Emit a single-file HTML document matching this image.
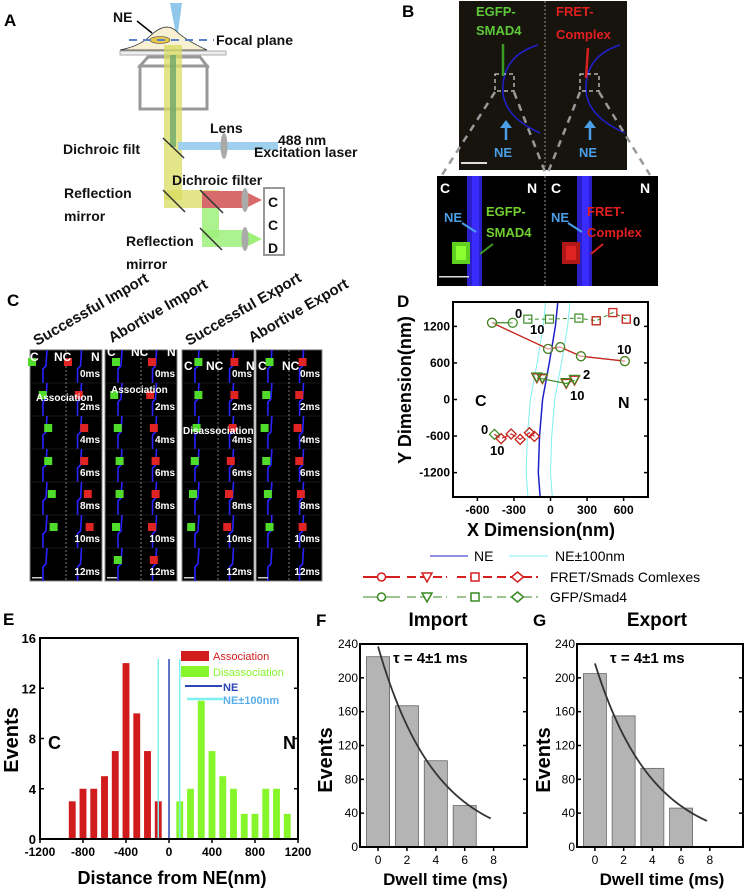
<!DOCTYPE html>
<html><head><meta charset="utf-8"><style>
html,body{margin:0;padding:0;background:#fff;}
svg{display:block;font-family:"Liberation Sans",Arial,sans-serif;}
.b{font-weight:bold;}
</style></head><body>
<svg id="fig" width="747" height="893" viewBox="0 0 747 893" xmlns="http://www.w3.org/2000/svg">
<!-- Panel A -->
<g>
<text x="4" y="26" class="b" font-size="17">A</text>
<polygon points="170,3 182,3 177,40" fill="#8fc8ea"/>
<path d="M120,50 Q140,46 150,36 Q165,22 175,30 Q185,40 207,50 Z" fill="#f7f0d2" stroke="#333" stroke-width="0.8"/>
<ellipse cx="160" cy="40" rx="10" ry="3.5" fill="#e8c84a" stroke="#333" stroke-width="0.6"/>
<line x1="129" y1="40" x2="214" y2="40" stroke="#5b82c8" stroke-width="2" stroke-dasharray="8,6"/>
<line x1="137" y1="21" x2="152" y2="33" stroke="#000" stroke-width="1.5"/>
<rect x="120" y="51" width="106" height="4" fill="#eee" stroke="#999" stroke-width="0.8"/>
<polygon points="148,57 200,57 207,66 140,66" fill="none" stroke="#999" stroke-width="3"/>
<rect x="140" y="66" width="67" height="43" fill="none" stroke="#999" stroke-width="3"/>
<rect x="164" y="45" width="18" height="155" fill="#d8dc60" opacity="0.75"/>
<rect x="164" y="190" width="55" height="18" fill="#d8dc60" opacity="0.75"/>
<rect x="170" y="55" width="6" height="92" fill="#6ea86a" opacity="0.8"/>
<rect x="178" y="142" width="100" height="8" fill="#9fd0ee"/>
<ellipse cx="224" cy="146" rx="3.5" ry="13" fill="#aaa"/>
<line x1="163" y1="138" x2="184" y2="158" stroke="#333" stroke-width="1.5"/>
<line x1="163" y1="190" x2="185" y2="212" stroke="#333" stroke-width="1.5"/>
<rect x="202" y="191" width="42" height="17" fill="#d76a6a"/>
<polygon points="244,191 262,200 244,209" fill="#d76a6a"/>
<ellipse cx="245" cy="200" rx="3.5" ry="12" fill="#aaa"/>
<rect x="202" y="208" width="17" height="30" fill="#9ef07a" opacity="0.85"/>
<rect x="202" y="230" width="42" height="17" fill="#9ef07a" opacity="0.85"/>
<polygon points="244,230 262,239 244,248" fill="#9ef07a"/>
<ellipse cx="245" cy="239" rx="3.5" ry="12" fill="#aaa"/>
<line x1="200" y1="190" x2="223" y2="213" stroke="#333" stroke-width="1.5"/>
<line x1="200" y1="228" x2="222" y2="250" stroke="#333" stroke-width="1.5"/>
<rect x="264" y="188" width="20" height="67" fill="#fff" stroke="#999" stroke-width="2"/>
<g class="b" font-size="14" fill="#111">
<text x="113" y="22">NE</text>
<text x="216" y="45">Focal plane</text>
<text x="210" y="133">Lens</text>
<text x="278" y="145">488 nm</text>
<text x="254" y="157">Excitation laser</text>
<text x="63" y="154">Dichroic filt</text>
<text x="172" y="185">Dichroic filter</text>
<text x="64" y="198">Reflection</text>
<text x="64" y="221">mirror</text>
<text x="126" y="246">Reflection</text>
<text x="126" y="269">mirror</text>
<text x="268" y="207">C</text>
<text x="268" y="230">C</text>
<text x="268" y="253">D</text>
</g>
</g>
<!-- Panel B -->
<g>
<text x="402" y="17" class="b" font-size="17">B</text>
<rect x="459" y="1" width="168" height="169" fill="#17140d"/>
<line x1="545" y1="1" x2="545" y2="286" stroke="#ccc" stroke-width="0.7" stroke-dasharray="2,2"/>
<path d="M538,45 Q505,55 503,85 Q500,115 540,133" fill="none" stroke="#2020d0" stroke-width="1.5"/>
<path d="M620,45 Q588,55 586,85 Q584,115 625,133" fill="none" stroke="#2020d0" stroke-width="1.5"/>
<rect x="495" y="74" width="19" height="17" fill="none" stroke="#fff" stroke-dasharray="4,3"/>
<rect x="580" y="74" width="19" height="17" fill="none" stroke="#fff" stroke-dasharray="4,3"/>
<line x1="503" y1="44" x2="503" y2="76" stroke="#3a9a22" stroke-width="2.5"/>
<line x1="588" y1="48" x2="586" y2="78" stroke="#d42020" stroke-width="2.5"/>
<line x1="506" y1="140" x2="506" y2="124" stroke="#4a9fe8" stroke-width="2.5"/>
<polygon points="500,128 506,120 512,128" fill="#4a9fe8"/>
<line x1="590" y1="140" x2="590" y2="124" stroke="#4a9fe8" stroke-width="2.5"/>
<polygon points="584,128 590,120 596,128" fill="#4a9fe8"/>
<text x="476" y="16" class="b" font-size="13" fill="#5ec83a">EGFP-</text>
<text x="476" y="35" class="b" font-size="13" fill="#5ec83a">SMAD4</text>
<text x="556" y="16" class="b" font-size="13" fill="#e02020">FRET-</text>
<text x="556" y="39" class="b" font-size="13" fill="#e02020">Complex</text>
<text x="494" y="157" class="b" font-size="13" fill="#4a9fe8">NE</text>
<text x="579" y="157" class="b" font-size="13" fill="#4a9fe8">NE</text>
<rect x="461" y="162" width="26" height="2" fill="#ddd"/>
<g stroke="#999" stroke-width="2.5" stroke-dasharray="7,6">
<line x1="495" y1="92" x2="442" y2="175"/><line x1="514" y1="92" x2="545" y2="172"/>
<line x1="580" y1="92" x2="547" y2="175"/><line x1="599" y1="92" x2="650" y2="175"/>
</g>
<rect x="437" y="176" width="221" height="110" fill="#000"/>
<rect x="467" y="176" width="15" height="110" fill="#2b20c8"/>
<rect x="472" y="176" width="7" height="110" fill="#3a2cff"/>
<rect x="577" y="176" width="15" height="110" fill="#2b20c8"/>
<rect x="582" y="176" width="7" height="110" fill="#3a2cff"/>
<rect x="452" y="242" width="18" height="22" fill="#5fcf20"/>
<rect x="456" y="246" width="10" height="14" fill="#8cff30"/>
<rect x="562" y="242" width="18" height="22" fill="#b01818"/>
<rect x="566" y="246" width="10" height="14" fill="#e02424"/>
<line x1="545" y1="176" x2="545" y2="286" stroke="#ccc" stroke-width="0.7" stroke-dasharray="2,2"/>
<g class="b" font-size="14" fill="#fff"><text x="440" y="193">C</text><text x="527" y="193">N</text><text x="551" y="193">C</text><text x="640" y="193">N</text></g>
<text x="444" y="222" class="b" font-size="13" fill="#4a9fe8">NE</text>
<text x="551" y="222" class="b" font-size="13" fill="#4a9fe8">NE</text>
<text x="486" y="216" class="b" font-size="13" fill="#6fd030">EGFP-</text>
<text x="486" y="237" class="b" font-size="13" fill="#6fd030">SMAD4</text>
<text x="587" y="216" class="b" font-size="13" fill="#e02020">FRET-</text>
<text x="587" y="237" class="b" font-size="13" fill="#e02020">Complex</text>
<line x1="462" y1="223" x2="476" y2="232" stroke="#4a9fe8" stroke-width="2"/>
<line x1="568" y1="223" x2="582" y2="232" stroke="#4a9fe8" stroke-width="2"/>
<line x1="493" y1="244" x2="480" y2="254" stroke="#3a9a22" stroke-width="2"/>
<line x1="603" y1="244" x2="591" y2="254" stroke="#d42020" stroke-width="2"/>
<rect x="439" y="276" width="30" height="1.5" fill="#ddd"/>
</g>
<!-- Panel C -->
<g id="panelC">
<text x="7" y="306" class="b" font-size="17">C</text>
<g font-size="15" fill="#111" font-weight="bold">
<text transform="translate(37,346) rotate(-30)">Successful Import</text>
<text transform="translate(112,343) rotate(-30)">Abortive  Import</text>
<text transform="translate(189,346) rotate(-30)">Successful Export</text>
<text transform="translate(252,343) rotate(-30)">Abortive Export</text>
</g>
</g>
<!-- Panel D -->
<g id="panelD">
<text x="397" y="307" class="b" font-size="17">D</text>
</g>
<!-- Panel E -->
<g id="panelE">
<text x="3" y="625" class="b" font-size="17">E</text>
</g>
<g id="panelF">
<text x="316" y="626" class="b" font-size="17">F</text>
</g>
<g id="panelG">
<text x="533" y="626" class="b" font-size="17">G</text>
</g>
</svg>
<script>
const NS="http://www.w3.org/2000/svg";
function mk(parent,tag,attrs,txt){const e=document.createElementNS(NS,tag);for(const k in attrs)e.setAttribute(k,attrs[k]);if(txt!==undefined)e.textContent=txt;parent.appendChild(e);return e;}

// ---------- Panel C: time-lapse strips (illustrative images) ----------
const cStripX=[30,105,182,256];
const cSpots=[
 [[0,0.25,0.9],[0.3,0.8],[0.45,0.9],[0.45,0.9],[0.55,0.95],[0.6,0.9],null],
 [[0.25,0.7],[0.2,0.65],[0.3,0.85],[0.35,0.85],[0.35,0.8],[0.25,0.6],[0.3,0.65],null],
 [[0.4,0.9],[0.4,0.9],[0.35,0.85],[0.3,0.8],[0.25,0.75],[0.2,0.7],null],
 [[0.35,0.85],[0.25,0.8],[0.2,0.75],[0.25,0.8],[0.3,0.8],[0.35,0.85],null]
];
const cG=document.getElementById('panelC');
const cTimes=['0ms','2ms','4ms','6ms','8ms','10ms','12ms'];
cStripX.forEach((x0,si)=>{
 const w=si===3?66:72, top=350, h=231;
 const r=mk(cG,'rect',{x:x0,y:top,width:w,height:h,fill:'#000',stroke:'#888','stroke-width':1});
 
 
 for(let k=0;k<7;k++){
  const y=top+k*33;
  mk(cG,'line',{x1:x0,y1:y,x2:x0+w,y2:y,stroke:'#333','stroke-width':0.6});
  [0.18,0.66].forEach(f=>{mk(cG,'path',{d:`M${x0+w*f+4},${y} L${x0+w*f+3},${y+16} L${x0+w*f},${y+19} L${x0+w*f},${y+33}`,stroke:'#2a22ff','stroke-width':1.6,fill:'none'});});
  mk(cG,'text',{x:x0+w-2,y:y+27,'text-anchor':'end','font-size':10,fill:'#fff','font-weight':'bold'},cTimes[k]);
 }
 mk(cG,'line',{x1:x0+w/2,y1:top,x2:x0+w/2,y2:top+h,stroke:'#ccc','stroke-width':0.6,'stroke-dasharray':'2,2'});
 [0,0.5].forEach((off,j)=>{
  for(let row=0;row<7;row++){const s=cSpots[si][row]; if(!s)continue;
   const sx=x0+w*(off+s[0]*0.5)+2, sy=350+row*33+12;
   mk(cG,'rect',{x:sx-4,y:sy-4,width:8,height:8,fill:j===0?'#4fdc2a':'#e02424'});}
 });
 mk(cG,'rect',{x:x0+2,y:top+h-4,width:10,height:1.5,fill:'#ccc'});
});
[[30,'C',361],[54,'NC',361],[91,'N',361],[107,'C',356],[131,'NC',356],[167,'N',356],[184,'C',370],[206,'NC',370],[246,'N',370],[258,'C',370],[282,'NC',370]].forEach(a=>{mk(cG,'text',{x:a[0],y:a[2],'font-size':12,fill:'#fff','font-weight':'bold'},a[1]);});
mk(cG,'text',{x:36,y:401,'font-size':10,fill:'#fff','font-weight':'bold'},'Association');
mk(cG,'text',{x:111,y:393,'font-size':10,fill:'#fff','font-weight':'bold'},'Association');
mk(cG,'text',{x:183,y:434,'font-size':10,fill:'#fff','font-weight':'bold'},'Disassociation');

// ---------- Panel D: trajectories ----------
const dRedCircX=[-480,-20,80,250,610];
const dRedCircY=[1260,830,860,710,630];
const dGrnCircX=[-310,-480,-20,80,250,610];
const dGrnCircY=[1260,1260,830,860,710,630];
const dTriX=[-112,-66,129,197];
const dTriY=[355,340,262,316];
const dGrnSqX=[-186,-8,233,375,512,622];
const dGrnSqY=[1319,1319,1336,1292,1427,1319];
const dRedSqX=[375,512,622];
const dRedSqY=[1292,1427,1319];
const dDiaGX=[-460,-405,-323,-249,-173,-132];
const dDiaGY=[-572,-643,-566,-654,-545,-605];
const dDiaRX=[-405,-323,-249,-173,-132];
const dDiaRY=[-643,-566,-654,-545,-605];
const dNEx=[60,40,-10,-65,-90,-100,-85];
const dNEy=[1600,1200,600,0,-600,-1200,-1600];
const dXTicks=[-600,-300,0,300,600];
const dYTicks=[-1200,-600,0,600,1200];
(function(){
 const g=document.getElementById('panelD');
 const L=453,R=648,T=302,B=497;
 const sx=v=>L+(v+800)/1600*(R-L), sy=v=>B-(v+1600)/3200*(B-T);
 const pts=(xs,ys,dx)=>xs.map((v,i)=>sx(v+(dx||0))+','+sy(ys[i])).join(' ');
 [-100,100].forEach(o=>{const p=mk(g,'polyline',{points:pts(dNEx,dNEy,o),fill:'none',stroke:'#7ff0f0','stroke-width':1});});
 const ne=mk(g,'polyline',{points:pts(dNEx,dNEy),fill:'none',stroke:'#2020c8','stroke-width':1.5});
 
 const frame=mk(g,'rect',{x:L,y:T,width:R-L,height:B-T,fill:'none',stroke:'#000','stroke-width':2});
 
 dXTicks.forEach(v=>{mk(g,'line',{x1:sx(v),y1:B,x2:sx(v),y2:B+4,stroke:'#000','stroke-width':1.5});
  const t=mk(g,'text',{x:sx(v),y:B+17,'text-anchor':'middle','font-size':12,'font-weight':'bold'},String(v));});
 dYTicks.forEach(v=>{mk(g,'line',{x1:L,y1:sy(v),x2:L+4,y2:sy(v),stroke:'#000','stroke-width':1.5});mk(g,'line',{x1:R,y1:sy(v),x2:R-4,y2:sy(v),stroke:'#000','stroke-width':1.5});
  const t=mk(g,'text',{x:L-3,y:sy(v)+4,'text-anchor':'end','font-size':12,'font-weight':'bold'},String(v));});
 const xt=mk(g,'text',{x:541,y:536,'text-anchor':'middle','font-size':18,'font-weight':'bold'},'X Dimension(nm)');
 
 const yt=mk(g,'text',{transform:'translate(411,390) rotate(-90)','text-anchor':'middle','font-size':18,'font-weight':'bold'},'Y Dimension(nm)');
 
 mk(g,'polyline',{points:pts(dGrnCircX,dGrnCircY),fill:'none',stroke:'#3a8a22','stroke-width':1.2});
 mk(g,'polyline',{points:pts(dRedCircX,dRedCircY),fill:'none',stroke:'#d42020','stroke-width':1.2});
 mk(g,'polyline',{points:pts(dGrnSqX,dGrnSqY),fill:'none',stroke:'#3a8a22','stroke-width':1,'stroke-dasharray':'4,3'});
 mk(g,'polyline',{points:pts(dTriX,dTriY),fill:'none',stroke:'#3a8a22','stroke-width':1.2});
 mk(g,'polyline',{points:pts(dDiaGX,dDiaGY),fill:'none',stroke:'#d42020','stroke-width':1.2,'stroke-dasharray':'6,3'});
 const mark=(shape,x,y,col,name)=>{let e;const X=sx(x),Y=sy(y);
  if(shape==='c')e=mk(g,'circle',{cx:X,cy:Y,r:4.5,fill:'#fff','fill-opacity':0.3,stroke:col,'stroke-width':1.2});
  if(shape==='s')e=mk(g,'rect',{x:X-4,y:Y-4,width:8,height:8,fill:'none',stroke:col,'stroke-width':1.2});
  if(shape==='t')e=mk(g,'polygon',{points:`${X-5},${Y-4} ${X+5},${Y-4} ${X},${Y+5}`,fill:'none',stroke:col,'stroke-width':1.2});
  if(shape==='d')e=mk(g,'polygon',{points:`${X},${Y-5} ${X+5},${Y} ${X},${Y+5} ${X-5},${Y}`,fill:'none',stroke:col,'stroke-width':1.2});
  };
 dRedCircX.forEach((v,i)=>mark('c',v,dRedCircY[i],'#d42020','fret-circle-point'));
 dGrnCircX.forEach((v,i)=>mark('c',v,dGrnCircY[i],'#3a8a22','gfp-circle-point'));
 dGrnSqX.forEach((v,i)=>mark('s',v,dGrnSqY[i],'#3a8a22','gfp-square-point'));
 dRedSqX.forEach((v,i)=>mark('s',v,dRedSqY[i],'#d42020','fret-square-point'));
 dTriX.forEach((v,i)=>{mark('t',v,dTriY[i],'#d42020','fret-triangle-point');mark('t',v,dTriY[i]+15,'#3a8a22','gfp-triangle-point');});
 dDiaGX.forEach((v,i)=>mark('d',v,dDiaGY[i],'#3a8a22','gfp-diamond-point'));
 dDiaRX.forEach((v,i)=>mark('d',v,dDiaRY[i],'#d42020','fret-diamond-point'));
 [[515,318,'0'],[530,334,'10'],[633,326,'0'],[617,354,'10'],[583,379,'2'],[570,400,'10'],[481,434,'0'],[490,455,'10']].forEach(a=>mk(g,'text',{x:a[0],y:a[1],'font-size':13,'font-weight':'bold'},a[2]));
 mk(g,'text',{x:475,y:406,'font-size':16,'font-weight':'bold'},'C');
 mk(g,'text',{x:618,y:408,'font-size':16,'font-weight':'bold'},'N');
 const lg=mk(g,'g',{});
 
 mk(lg,'line',{x1:430,y1:556,x2:468,y2:556,stroke:'#2020c8','stroke-width':1});
 mk(lg,'text',{x:474,y:561,'font-size':14},'NE');
 mk(lg,'line',{x1:509,y1:556,x2:548,y2:556,stroke:'#7ff0f0','stroke-width':1});
 mk(lg,'text',{x:555,y:561,'font-size':14},'NE±100nm');
 [[577,'#d42020',2,'FRET/Smads Comlexes'],[597,'#3a8a22',1,'GFP/Smad4']].forEach(r=>{
  const y=r[0],c=r[1];
  [[363,400,'c'],[407,447,'t'],[457,493,'s'],[497,538,'d']].forEach(s=>{
   mk(lg,'line',{x1:s[0],y1:y,x2:s[1],y2:y,stroke:c,'stroke-width':r[2],'stroke-dasharray':s[2]==='c'?'none':'9,4'});
   const X=(s[0]+s[1])/2;
   if(s[2]==='c')mk(lg,'circle',{cx:X,cy:y,r:4,fill:'#fff',stroke:c,'stroke-width':1.5});
   if(s[2]==='t')mk(lg,'polygon',{points:`${X-5},${y-4} ${X+5},${y-4} ${X},${y+5}`,fill:'#fff',stroke:c,'stroke-width':1.5});
   if(s[2]==='s')mk(lg,'rect',{x:X-4,y:y-4,width:8,height:8,fill:'#fff',stroke:c,'stroke-width':1.5});
   if(s[2]==='d')mk(lg,'polygon',{points:`${X},${y-5} ${X+6},${y} ${X},${y+5} ${X-6},${y}`,fill:'#fff',stroke:c,'stroke-width':1.5});
  });
  mk(lg,'text',{x:550,y:y+5,'font-size':14},r[3]);
 });
})();

// ---------- Panel E: histogram ----------
const eAssocBins=[-900,-800,-700,-600,-500,-400,-300,-200,-100];
const eAssocCounts=[3,4,4,5,7,14,10,7,3];
const eDisBins=[100,200,300,400,500,600,700,800,900,1000,1100];
const eDisCounts=[3,4,11,7,5,4,2,2,4,4,2];
const eXTicks=[-1200,-800,-400,0,400,800,1200];
const eYTicks=[0,4,8,12,16];
(function(){
 const g=document.getElementById('panelE');
 const L=40,R=298,T=638,B=839;
 const sx=v=>L+(v+1200)/2400*(R-L), sy=v=>B-v/16*(B-T);
 const bw=(sx(100)-sx(0))*0.64;
 eAssocBins.forEach((b,i)=>{const r=mk(g,'rect',{x:sx(b)-bw/2,y:sy(eAssocCounts[i]),width:bw,height:B-sy(eAssocCounts[i]),fill:'#d01c1c'});
  });
 eDisBins.forEach((b,i)=>{const r=mk(g,'rect',{x:sx(b)-bw/2,y:sy(eDisCounts[i]),width:bw,height:B-sy(eDisCounts[i]),fill:'#86f52a'});
  });
 [-100,100].forEach(v=>mk(g,'line',{x1:sx(v),y1:659,x2:sx(v),y2:B,stroke:'#7ff0f0','stroke-width':1.5}));
 mk(g,'line',{x1:sx(0),y1:659,x2:sx(0),y2:B,stroke:'#2c46b8','stroke-width':1.5});
 const f=mk(g,'rect',{x:L,y:T,width:R-L,height:B-T,fill:'none',stroke:'#000','stroke-width':2});
 
 eXTicks.forEach(v=>{mk(g,'line',{x1:sx(v),y1:B,x2:sx(v),y2:B+4,stroke:'#000','stroke-width':1.5});
  const t=mk(g,'text',{x:sx(v),y:B+17,'text-anchor':'middle','font-size':12,'font-weight':'bold'},String(v));});
 eYTicks.forEach(v=>{mk(g,'line',{x1:L,y1:sy(v),x2:L+4,y2:sy(v),stroke:'#000','stroke-width':1.5});mk(g,'line',{x1:R,y1:sy(v),x2:R-4,y2:sy(v),stroke:'#000','stroke-width':1.5});
  const t=mk(g,'text',{x:L-4,y:sy(v)+5,'text-anchor':'end','font-size':13,'font-weight':'bold'},String(v));});
 const xt=mk(g,'text',{x:172,y:884,'text-anchor':'middle','font-size':18,'font-weight':'bold'},'Distance from NE(nm)');
 
 const yt=mk(g,'text',{transform:'translate(18,740) rotate(-90)','text-anchor':'middle','font-size':20,'font-weight':'bold'},'Events');
 
 mk(g,'text',{x:48,y:749,'font-size':18,'font-weight':'bold'},'C');
 mk(g,'text',{x:283,y:749,'font-size':18,'font-weight':'bold'},'N');
 const lg=mk(g,'g',{});
 mk(lg,'rect',{x:181,y:651,width:28,height:10,fill:'#d01c1c'});
 mk(lg,'text',{x:213,y:660,'font-size':11,fill:'#d01c1c'},'Association');
 mk(lg,'rect',{x:181,y:666,width:28,height:11,fill:'#86f52a'});
 mk(lg,'text',{x:213,y:676,'font-size':11,fill:'#86f52a'},'Disassociation');
 mk(lg,'line',{x1:185,y1:686,x2:222,y2:686,stroke:'#2c46b8','stroke-width':2});
 mk(lg,'text',{x:223,y:691,'font-size':11,fill:'#2c46b8','font-weight':'bold'},'NE');
 mk(lg,'line',{x1:187,y1:699,x2:223,y2:699,stroke:'#7ff0f0','stroke-width':2.5});
 mk(lg,'text',{x:223,y:704,'font-size':11,fill:'#5aaee8','font-weight':'bold'},'NE±100nm');
})();

// ---------- Panels F & G ----------
const fTimes=[0,2,4,6];
const fCounts=[225,167,102,49];
const fFitA=237;
const gTimes=[0,2,4,6];
const gCounts=[205,155,93,46];
const gFitA=217;
const dwellTau=4;
const dwellXTicks=[0,2,4,6,8];
const dwellYTicks=[0,40,80,120,160,200,240];
function dwell(id,L,R,times,counts,A,title,titleX,ylabX){
 const g=document.getElementById(id);
 const T=644,B=847;
 const x0=L+(R-L)*0.108, x8=L+(R-L)*0.8;
 const sx=v=>x0+v/8*(x8-x0), sy=v=>B-v/240*(B-T);
 const bw=(sx(2)-sx(0))*0.8;
 times.forEach((t,i)=>{const r=mk(g,'rect',{x:sx(t)-bw/2,y:sy(counts[i]),width:bw,height:B-sy(counts[i]),fill:'#b4b4b4',stroke:'#666','stroke-width':0.8});
  });
 let p=[];for(let t=0;t<=8;t+=0.2)p.push(sx(t)+','+sy(A*Math.exp(-t/dwellTau)));
 const c=mk(g,'polyline',{points:p.join(' '),fill:'none',stroke:'#333','stroke-width':1.8});
 
 const f=mk(g,'rect',{x:L,y:T,width:R-L,height:B-T,fill:'none',stroke:'#000','stroke-width':2});
 
 dwellXTicks.forEach(v=>{mk(g,'line',{x1:sx(v),y1:B,x2:sx(v),y2:B+4,stroke:'#000','stroke-width':1.5});
  const t=mk(g,'text',{x:sx(v),y:B+17,'text-anchor':'middle','font-size':12},String(v));});
 dwellYTicks.forEach(v=>{mk(g,'line',{x1:L,y1:sy(v),x2:L+4,y2:sy(v),stroke:'#000','stroke-width':1.5});mk(g,'line',{x1:R,y1:sy(v),x2:R-4,y2:sy(v),stroke:'#000','stroke-width':1.5});
  const t=mk(g,'text',{x:L-2,y:sy(v)+4,'text-anchor':'end','font-size':12},String(v));});
 const tt=mk(g,'text',{x:titleX,y:626,'text-anchor':'middle','font-size':19,'font-weight':'bold'},title);
 
 mk(g,'text',{x:L+33,y:663,'font-size':15,'font-weight':'bold'},'τ =  4±1 ms');
 const xt=mk(g,'text',{x:(L+R)/2+2,y:885,'text-anchor':'middle','font-size':17,'font-weight':'bold'},'Dwell time (ms)');
 
 const yt=mk(g,'text',{transform:`translate(${ylabX},760) rotate(-90)`,'text-anchor':'middle','font-size':20,'font-weight':'bold'},'Events');
 
}
dwell('panelF',360,527,fTimes,fCounts,fFitA,'Import',438,332);
dwell('panelG',577,743,gTimes,gCounts,gFitA,'Export',657,550);
</script>
</body></html>
